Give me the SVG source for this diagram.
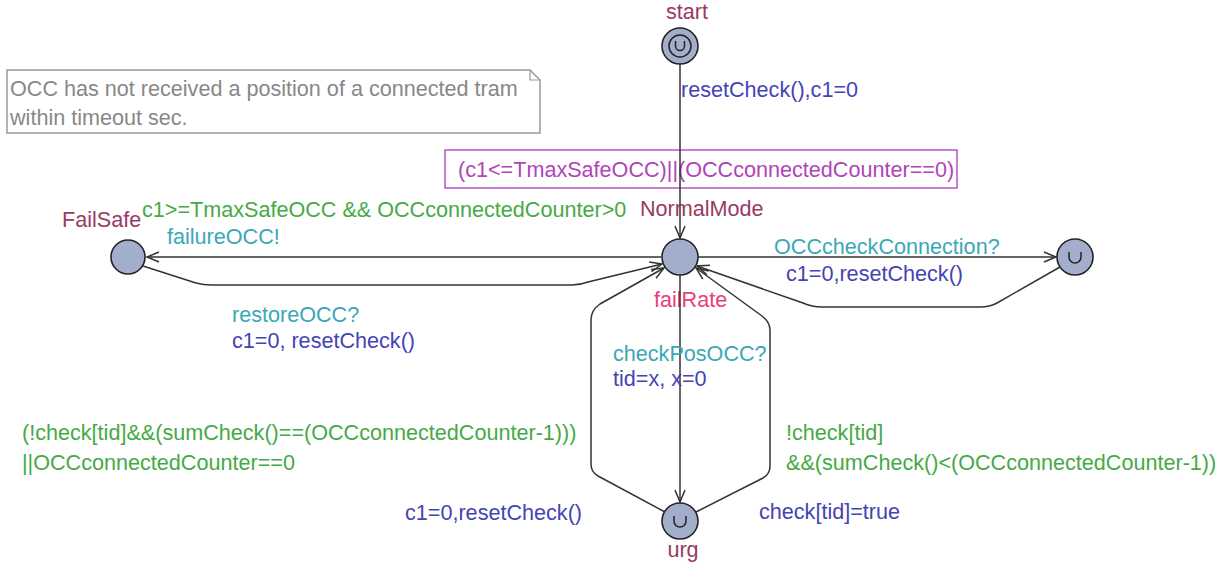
<svg xmlns="http://www.w3.org/2000/svg" width="1226" height="570" viewBox="0 0 1226 570">
<defs>
<marker id="arr" viewBox="-13 -7 15 14" markerWidth="15" markerHeight="14" refX="0" refY="0" orient="auto" markerUnits="userSpaceOnUse">
<path d="M-12,-5 L0,0 L-12,5" fill="none" stroke="#333" stroke-width="1.5"/>
</marker>
</defs>
<style>
text{font-family:"Liberation Sans",Arial,sans-serif;font-size:21.6px}
.loc{fill:#a3adcc;stroke:#222;stroke-width:1.6}
.u{fill:none;stroke:#222;stroke-width:1.5}
.name{fill:#983a66}
.edge{fill:none;stroke:#333;stroke-width:1.5;marker-end:url(#arr)}
.guard{fill:#45aa45}
.sync{fill:#3aa8b6}
.upd{fill:#4444b4}
.inv{fill:#b044b8}
.note{fill:#888}
</style>
<rect width="1226" height="570" fill="#fff"/>
<g id="note">
<path d="M7,70 H530 L540,80 V133 H7 Z" fill="#fff" stroke="#999" stroke-width="1.5"/>
<path d="M530,70 V80 H540" fill="none" stroke="#999" stroke-width="1.2"/>
<text class="note" x="10" y="96">OCC has not received a position of a connected tram</text>
<text class="note" x="10" y="125">within timeout sec.</text>
</g>
<g id="start">
<circle class="loc" cx="680" cy="46" r="18"/>
<circle class="u" cx="680" cy="46" r="11"/>
<path class="u" d="M675.5,41 V46 A4.5,4.5 0 0 0 684.5,46 V41"/>
<text class="name" x="687" y="19" text-anchor="middle">start</text>
</g>
<g id="NormalMode">
<rect x="445" y="150" width="512" height="38" fill="#fff" stroke="#b455c4" stroke-width="1.5"/>
<text class="inv" x="458" y="177">(c1&lt;=TmaxSafeOCC)||(OCCconnectedCounter==0)</text>
<circle class="loc" cx="680" cy="257" r="18"/>
<text class="name" x="640" y="216">NormalMode</text>
<text x="654" y="307" fill="#e8407a">failRate</text>
</g>
<g id="FailSafe">
<circle class="loc" cx="128" cy="257" r="17"/>
<text class="name" x="62" y="227">FailSafe</text>
</g>
<g id="checkConn">
<circle class="loc" cx="1075" cy="257" r="18"/>
<path class="u" d="M1069,252 V257 A6,6 0 0 0 1081,257 V252"/>
</g>
<g id="urg">
<circle class="loc" cx="680" cy="521" r="18"/>
<path class="u" d="M674,516 V521 A6,6 0 0 0 686,521 V516"/>
<text class="name" x="683" y="557" text-anchor="middle">urg</text>
</g>
<g id="connectors">
<path class="edge" d="M680,64 V238"/>
<path class="edge" d="M661,257 H147"/>
<path class="edge" d="M143,266 L196,283 Q203,285 212,285 H572 Q580,285 588,282 L662,264"/>
<path class="edge" d="M698,257 H1056"/>
<path class="edge" d="M1060,267 L997,303 Q990,307 980,307 H822 Q812,307 803,303 L697,266"/>
<path class="edge" d="M680,275 V502"/>
<path class="edge" d="M665,512 L598,476 Q591,472 591,464 V320 Q591,310 600,304 L664,268"/>
<path class="edge" d="M696,512 L763,478 Q770,474 770,466 V330 Q770,322 762,316 L696,268"/>
<text class="upd" x="681" y="97">resetCheck(),c1=0</text>
<text class="guard" x="142" y="217">c1&gt;=TmaxSafeOCC &amp;&amp; OCCconnectedCounter&gt;0</text>
<text class="sync" x="167" y="244">failureOCC!</text>
<text class="sync" x="774" y="254">OCCcheckConnection?</text>
<text class="upd" x="786" y="281">c1=0,resetCheck()</text>
<text class="sync" x="232" y="322">restoreOCC?</text>
<text class="upd" x="232" y="348">c1=0, resetCheck()</text>
<text class="sync" x="613" y="361">checkPosOCC?</text>
<text class="upd" x="613" y="386">tid=x, x=0</text>
<text class="guard" x="22" y="440">(!check[tid]&amp;&amp;(sumCheck()==(OCCconnectedCounter-1)))</text>
<text class="guard" x="22" y="470">||OCCconnectedCounter==0</text>
<text class="upd" x="405" y="520">c1=0,resetCheck()</text>
<text class="guard" x="786" y="440">!check[tid]</text>
<text class="guard" x="786" y="470">&amp;&amp;(sumCheck()&lt;(OCCconnectedCounter-1))</text>
<text class="upd" x="759" y="519">check[tid]=true</text>
</g>
</svg>
